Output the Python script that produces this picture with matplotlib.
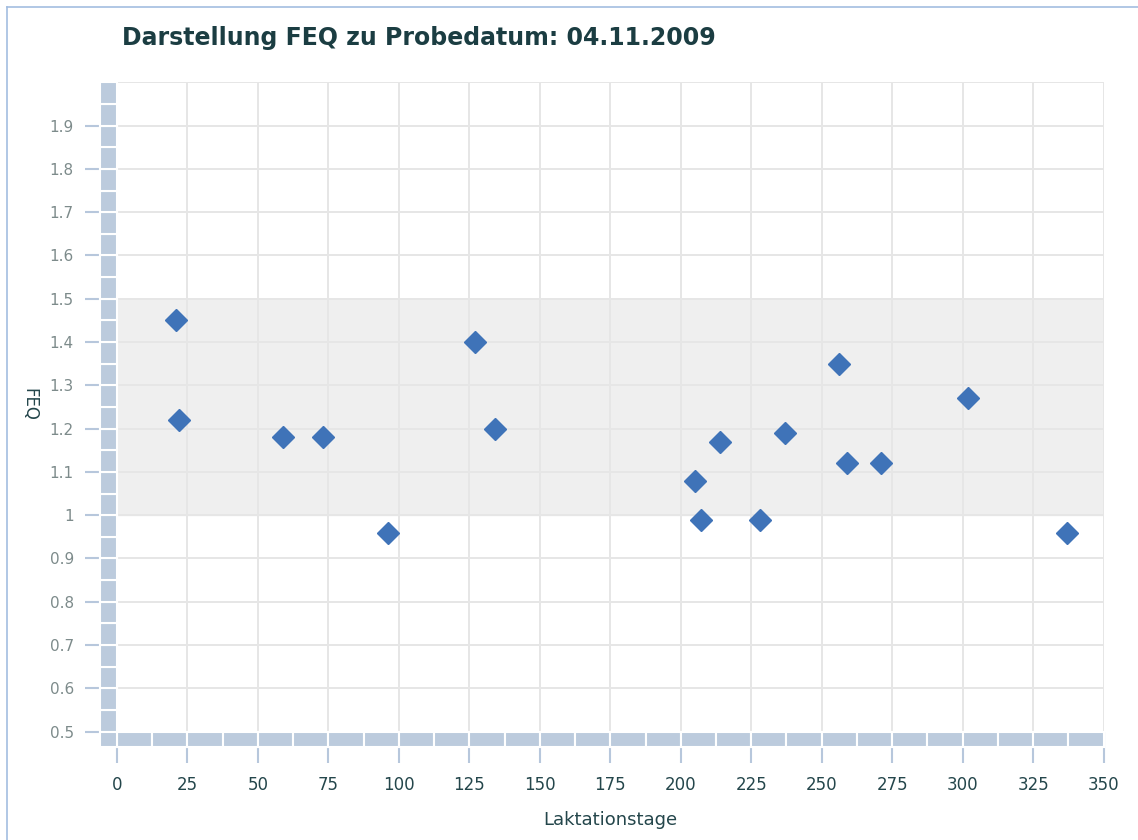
import numpy as np
import matplotlib
matplotlib.use("Agg")
import matplotlib.pyplot as plt
from matplotlib.patches import Rectangle

# Laktationstage / FEQ values
tage = [21, 22, 59, 73, 96, 127, 134, 205, 207, 214, 228, 237, 256, 259, 271, 302, 337]
feq = [1.45, 1.22, 1.18, 1.18, 0.96, 1.40, 1.20, 1.08, 0.99, 1.17, 0.99, 1.19, 1.35, 1.12, 1.12, 1.27, 0.96]
band = (1.0, 1.5)
xticks = list(range(0, 351, 25))
yticks = [round(0.5 + 0.1 * i, 1) for i in range(15)]
ytick_labels = ["1" if v == 1.0 else str(v) for v in yticks]

fig = plt.figure(figsize=(11.38, 8.40), dpi=100)
ax = fig.add_axes([0.1028, 0.129, 0.867, 0.773])
ax.set_xlim(0, 350)
ax.set_ylim(0.5, 2.0)

# frame around the whole picture
fig.add_artist(plt.Line2D([0.0062, 0.0062], [0, 0.9917], color="#a3bde0", lw=1.2))
fig.add_artist(plt.Line2D([0.0062, 1], [0.9917, 0.9917], color="#a3bde0", lw=1.2))

ax.axhspan(band[0], band[1], color="#efefef", zorder=0)
for x in xticks:
    ax.axvline(x, color="#e6e6e6", lw=1.4, zorder=1)
for y in yticks + [2.0]:
    ax.axhline(y, color="#e6e6e6", lw=1.4, zorder=1)

# thick segmented axis bars
bar_col = "#bccbdd"
dx = 6.0
dy = 0.0346
for y0 in np.arange(0.5, 2.0, 0.05):
    ax.add_patch(Rectangle((-dx, y0), dx, 0.05, facecolor=bar_col, edgecolor="white",
                           lw=1.5, clip_on=False, zorder=3))
for x0 in np.arange(0, 350, 12.5):
    ax.add_patch(Rectangle((x0, 0.5 - dy), 12.5, dy, facecolor=bar_col, edgecolor="white",
                           lw=1.5, clip_on=False, zorder=3))
ax.add_patch(Rectangle((-dx, 0.5 - dy), dx, dy, facecolor=bar_col, edgecolor="white",
                       lw=1.5, clip_on=False, zorder=3))

ax.plot(tage, feq, ls="none", marker="D", ms=11, color="#3f73b8", mec="#3f73b8", zorder=4)

for s in ax.spines.values():
    s.set_visible(False)
ax.set_xticks(xticks)
ax.set_yticks(yticks)
ax.set_yticklabels(ytick_labels)
ax.tick_params(axis="y", length=23, width=1.5, color="#b7c7dc", labelsize=11,
               labelcolor="#7d8b8b", pad=8)
ax.tick_params(axis="x", length=22, width=1.5, color="#b7c7dc", labelsize=12,
               labelcolor="#24464b", pad=10)

ax.set_xlabel("Laktationstage", fontsize=13, color="#24464b", labelpad=12)
fig.text(0.026, 0.518, "FEQ", rotation=270, fontsize=12, color="#24464b",
         ha="center", va="center")
fig.text(0.107, 0.955, "Darstellung FEQ zu Probedatum: 04.11.2009", fontsize=17,
         fontweight="bold", color="#1b3d42", ha="left", va="center")

fig.savefig("out.png", dpi=100)
